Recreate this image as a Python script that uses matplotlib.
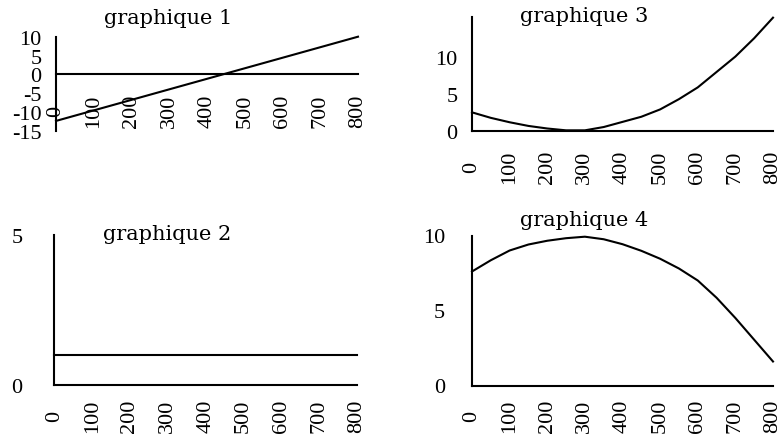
import matplotlib
matplotlib.use("Agg")
import matplotlib.pyplot as plt

plt.rcParams["axes.unicode_minus"] = False

# donnees
x_ticks = [0, 100, 200, 300, 400, 500, 600, 700, 800]

x1 = [0, 800]
y1 = [-12.4, 10]

x2 = [0, 800]
y2 = [1, 1]

x_curve = [0, 50, 100, 150, 200, 250, 300, 350, 400, 450, 500, 550, 600, 650, 700, 750, 800]
y3 = [2.5, 1.75, 1.15, 0.65, 0.3, 0.05, 0.05, 0.5, 1.2, 1.9, 2.9, 4.3, 5.9, 8.0, 10.1, 12.6, 15.4]
y4 = [7.6, 8.35, 9.0, 9.4, 9.65, 9.82, 9.92, 9.75, 9.42, 8.98, 8.45, 7.8, 7.0, 5.85, 4.5, 3.05, 1.6]

W, H = 783, 439
fig = plt.figure(figsize=(W / 100, H / 100), dpi=100)


def make_axes(left, top, right, bottom):
    return fig.add_axes([left / W, 1 - bottom / H, (right - left) / W, (bottom - top) / H])


def style(ax, ylim, yticks, xpad, ypad):
    ax.set_xlim(0, 800)
    ax.set_ylim(*ylim)
    ax.set_xticks(x_ticks)
    ax.set_yticks(yticks)
    for s in ["top", "right"]:
        ax.spines[s].set_visible(False)
    ax.spines["bottom"].set_position(("data", 0))
    ax.spines["left"].set_position(("data", 0))
    for s in ["bottom", "left"]:
        ax.spines[s].set_linewidth(1.5)
    ax.tick_params(axis="x", length=0, pad=xpad, labelrotation=90)
    ax.tick_params(axis="y", length=0, pad=ypad)
    for lbl in ax.get_xticklabels() + ax.get_yticklabels():
        lbl.set_fontfamily("Liberation Serif")
        lbl.set_fontsize(16)
    for lbl in ax.get_xticklabels():
        lbl.set_va("center")
    ax.patch.set_alpha(0)


ax1 = make_axes(56, 37.7, 358, 131.7)
ax1.plot(x1, y1, color="black", lw=1.5, clip_on=False)
style(ax1, (-15, 10), [-15, -10, -5, 0, 5, 10], 26, 10.5)

ax3 = make_axes(472, 18.3, 773, 131.7)
ax3.plot(x_curve, y3, color="black", lw=1.5, clip_on=False)
style(ax3, (0, 15.45), [0, 5, 10], 26, 10.5)

ax2 = make_axes(54.3, 236, 357, 386)
ax2.plot(x2, y2, color="black", lw=1.5, clip_on=False)
style(ax2, (0, 5), [0, 5], 21.6, 23)

ax4 = make_axes(472, 236.5, 773, 386.5)
ax4.plot(x_curve, y4, color="black", lw=1.5, clip_on=False)
style(ax4, (0, 10), [0, 5, 10], 21.6, 19.5)

titles = [("graphique 1", 168, 18), ("graphique 3", 584, 17),
          ("graphique 2", 167, 235), ("graphique 4", 584, 220)]
for t, px, py in titles:
    fig.text(px / W, 1 - py / H, t, ha="center", va="center",
             family="DejaVu Serif", fontsize=15)

fig.savefig("out.png", dpi=100)
